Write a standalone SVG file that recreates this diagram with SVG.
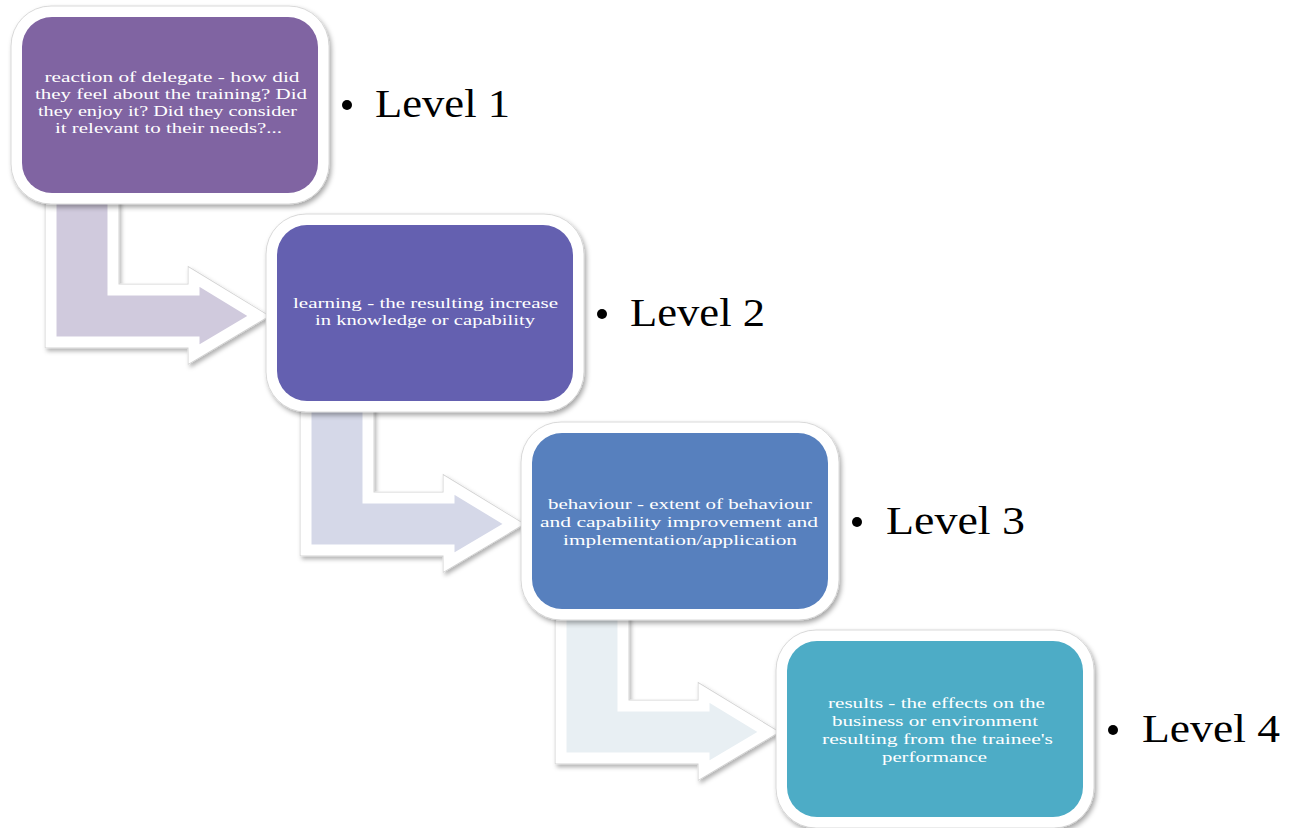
<svg xmlns="http://www.w3.org/2000/svg" width="1294" height="828" viewBox="0 0 1294 828">
<defs>
<filter id="sh" x="-10%" y="-10%" width="130%" height="130%">
<feDropShadow dx="2" dy="3" stdDeviation="2.5" flood-color="#000" flood-opacity="0.35"/>
</filter>
<filter id="ash" x="-10%" y="-10%" width="130%" height="130%">
<feDropShadow dx="2" dy="3" stdDeviation="2" flood-color="#000" flood-opacity="0.3"/>
</filter>
<path id="arrowShape" d="M51,185 L113,185 L113,290 L194,290 L194,277 L258,316 L194,354 L194,342 L51,342 Z"/>
</defs>
<style>
.frame{fill:#ffffff;stroke:#cfcfcf;stroke-width:0.8;filter:url(#sh)}
.bt{font-family:"Liberation Serif","Times New Roman",serif;font-size:14.5px;fill:#ffffff;text-anchor:middle}
.lv{font-family:"Liberation Serif","Times New Roman",serif;font-size:40px;fill:#000000}
.arro{fill:none;stroke:#d2d2d2;stroke-width:12.5;stroke-linejoin:miter;stroke-miterlimit:10;filter:url(#ash)}
.arr{stroke:#ffffff;stroke-width:11;stroke-linejoin:miter;stroke-miterlimit:10}
</style>
<rect width="1294" height="828" fill="#ffffff"/>
<g id="connectors">
<use href="#arrowShape" class="arro"/>
<use href="#arrowShape" class="arr" fill="#D0CADD"/>
<use href="#arrowShape" class="arro" transform="translate(255,208)"/>
<use href="#arrowShape" class="arr" fill="#D5D8E8" transform="translate(255,208)"/>
<use href="#arrowShape" class="arro" transform="translate(510,416)"/>
<use href="#arrowShape" class="arr" fill="#E8EFF3" transform="translate(510,416)"/>
</g>
<g id="node1">
<rect class="frame" x="11" y="6" width="318" height="198" rx="40"/>
<rect x="22" y="17" width="296" height="176" rx="30" fill="#8064A2"/>
<text class="bt"><tspan x="172" y="82" textLength="255" lengthAdjust="spacingAndGlyphs">reaction of delegate - how did</tspan><tspan x="171" y="99" textLength="272" lengthAdjust="spacingAndGlyphs">they feel about the training? Did</tspan><tspan x="167.5" y="116" textLength="259" lengthAdjust="spacingAndGlyphs">they enjoy it? Did they consider</tspan><tspan x="168.5" y="133" textLength="227" lengthAdjust="spacingAndGlyphs">it relevant to their needs?...</tspan></text>
</g>
<g id="level1">
<circle cx="347" cy="105" r="5" fill="#000"/>
<text class="lv" x="375" y="117" textLength="135" lengthAdjust="spacingAndGlyphs">Level 1</text>
</g>
<g id="node2">
<rect class="frame" x="266" y="214" width="318" height="198" rx="40"/>
<rect x="277" y="225" width="296" height="176" rx="30" fill="#6460B0"/>
<text class="bt"><tspan x="425.5" y="308" textLength="265" lengthAdjust="spacingAndGlyphs">learning - the resulting increase</tspan><tspan x="425" y="325" textLength="220" lengthAdjust="spacingAndGlyphs">in knowledge or capability</tspan></text>
</g>
<g id="level2">
<circle cx="602" cy="314" r="5" fill="#000"/>
<text class="lv" x="630" y="326" textLength="135" lengthAdjust="spacingAndGlyphs">Level 2</text>
</g>
<g id="node3">
<rect class="frame" x="521" y="422" width="318" height="198" rx="40"/>
<rect x="532" y="433" width="296" height="176" rx="30" fill="#5780BE"/>
<text class="bt"><tspan x="680" y="509" textLength="264" lengthAdjust="spacingAndGlyphs">behaviour - extent of behaviour</tspan><tspan x="679" y="527" textLength="278" lengthAdjust="spacingAndGlyphs">and capability improvement and</tspan><tspan x="680" y="545" textLength="234" lengthAdjust="spacingAndGlyphs">implementation/application</tspan></text>
</g>
<g id="level3">
<circle cx="857" cy="522" r="5" fill="#000"/>
<text class="lv" x="886" y="534" textLength="139" lengthAdjust="spacingAndGlyphs">Level 3</text>
</g>
<g id="node4">
<rect class="frame" x="776" y="630" width="318" height="198" rx="40"/>
<rect x="787" y="641" width="296" height="176" rx="30" fill="#4DACC6"/>
<text class="bt"><tspan x="936.5" y="708" textLength="217" lengthAdjust="spacingAndGlyphs">results - the effects on the</tspan><tspan x="935" y="726" textLength="206" lengthAdjust="spacingAndGlyphs">business or environment</tspan><tspan x="937.5" y="744" textLength="231" lengthAdjust="spacingAndGlyphs">resulting from the trainee's</tspan><tspan x="934.5" y="762" textLength="105" lengthAdjust="spacingAndGlyphs">performance</tspan></text>
</g>
<g id="level4">
<circle cx="1113" cy="730" r="5" fill="#000"/>
<text class="lv" x="1142" y="742" textLength="138" lengthAdjust="spacingAndGlyphs">Level 4</text>
</g>
</svg>
